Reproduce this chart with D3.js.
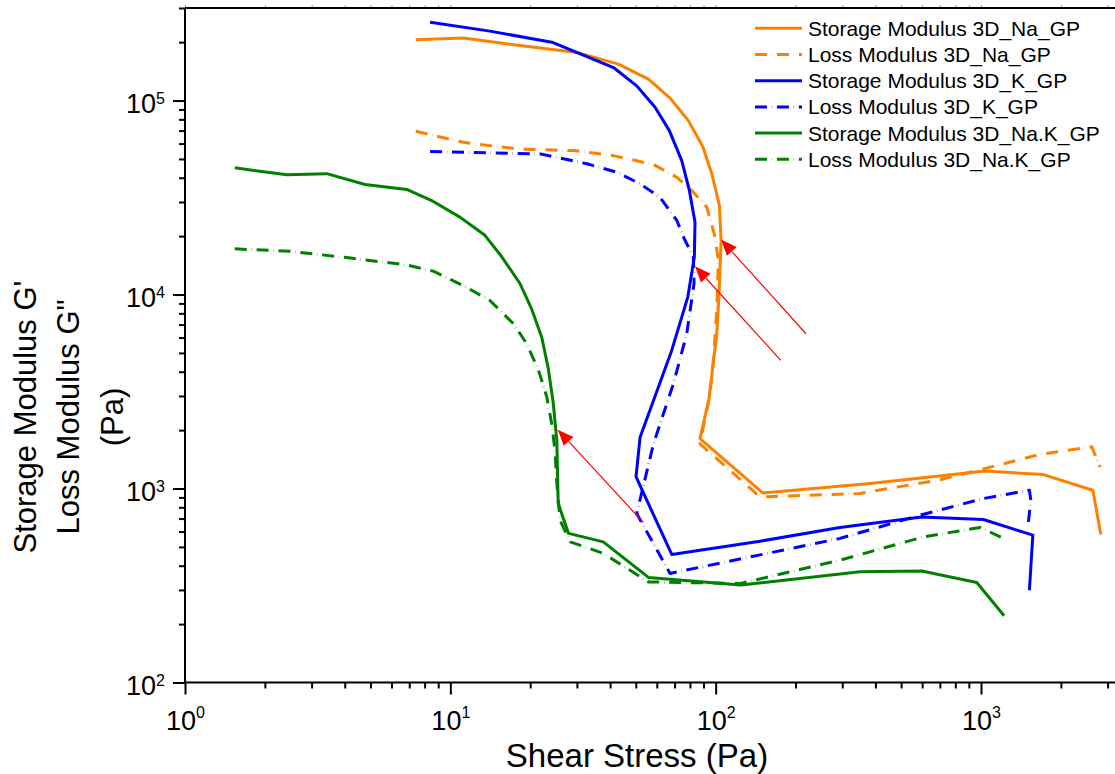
<!DOCTYPE html>
<html>
<head>
<meta charset="utf-8">
<script src="https://cdn.jsdelivr.net/npm/d3@7"></script>
<style>
  html, body { margin: 0; padding: 0; background: #fff; }
  svg { display: block; font-family: "Liberation Sans", Arial, sans-serif; }
</style>
</head>
<body>
<svg id="chart" width="1115" height="774"></svg>
<script>
// ---- Amplitude sweep data: shear stress (Pa) vs. moduli (Pa) ----
// 3D_Na_GP
const naStorageStress = [7.41, 11.2, 18.3, 30.0, 43.0, 55.8, 67.3, 78.9, 89.4, 96.7, 103.3, 104.8, 103.3, 101.0, 94.4, 87.3, 150.5, 382, 1036, 1719, 2639, 2829];
const naStorageG      = [2.06e5, 2.10e5, 1.92e5, 1.77e5, 1.54e5, 1.29e5, 1.03e5, 7.88e4, 5.79e4, 4.19e4, 2.88e4, 1.90e4, 1.09e4, 6280, 2910, 1810, 949, 1060, 1230, 1180, 980, 580];
const naLossStress    = [7.41, 11.2, 17.8, 29.1, 41.2, 58.3, 71.4, 82.4, 92.6, 99.5, 102.4, 101.0, 98.0, 95.3, 87.3, 147, 350, 701, 992, 1670, 2617, 2811];
const naLossG         = [6.94e4, 6.09e4, 5.63e4, 5.52e4, 5.20e4, 4.68e4, 4.02e4, 3.37e4, 2.82e4, 1.98e4, 1.50e4, 8280, 4580, 3080, 1700, 905, 943, 1110, 1250, 1500, 1640, 1290];
// 3D_K_GP
const kStorageStress  = [8.39, 14.1, 24.4, 41.2, 50.4, 59.1, 66.9, 74.5, 79.6, 83.6, 83.1, 78.5, 68.3, 51.9, 50.1, 68.3, 147, 294, 598, 1021, 1568, 1522];
const kStorageG       = [2.53e5, 2.28e5, 1.99e5, 1.48e5, 1.19e5, 9.23e4, 7.00e4, 4.90e4, 3.44e4, 2.36e4, 1.56e4, 9700, 5150, 1840, 1150, 457, 535, 630, 714, 692, 575, 299];
const kLossStress     = [8.39, 21.8, 32.7, 42.4, 51.9, 61.7, 71.4, 75.6, 82.4, 82.9, 77.8, 69.3, 58.3, 50.4, 67.3, 147, 294, 590, 1021, 1522, 1541, 1509];
const kLossG          = [5.46e4, 5.31e4, 4.72e4, 4.27e4, 3.72e4, 3.17e4, 2.41e4, 1.98e4, 1.56e4, 1.14e4, 6280, 3470, 1700, 743, 365, 455, 553, 729, 888, 980, 871, 673];
// 3D_Na.K_GP
const naKStorageStress = [1.54, 2.42, 3.42, 4.77, 6.85, 8.63, 10.9, 13.5, 15.6, 18.3, 20.3, 22.1, 23.4, 24.4, 25.2, 25.5, 27.9, 37.7, 55.8, 124, 350, 598, 964, 1222];
const naKStorageG      = [4.50e4, 4.14e4, 4.20e4, 3.69e4, 3.48e4, 3.02e4, 2.50e4, 2.02e4, 1.57e4, 1.14e4, 8350, 6030, 4150, 2790, 1770, 837, 587, 531, 348, 318, 372, 376, 328, 221];
const naKLossStress    = [1.54, 2.49, 4.07, 6.85, 8.63, 11.5, 14.1, 17.3, 19.4, 21.5, 23.1, 24.1, 24.8, 25.2, 25.9, 28.3, 37.7, 55.8, 124, 294, 607, 992, 1198];
const naKLossG         = [1.72e4, 1.67e4, 1.55e4, 1.42e4, 1.32e4, 1.09e4, 9320, 7070, 5580, 4070, 2960, 2160, 1570, 1060, 687, 531, 463, 330, 324, 427, 563, 630, 559];

// Crossover arrows (tail -> head), in data units
const arrowTailStress = [219, 176, 53.4];
const arrowTailG      = [6280, 4580, 668];
const arrowHeadStress = [104.8, 83.6, 25.4];
const arrowHeadG      = [1.92e4, 1.40e4, 2010];

// Axis ticks
const xMajorTicks = [1, 10, 100, 1000];
const xMinorTicks = [2,3,4,5,6,7,8,9, 20,30,40,50,60,70,80,90, 200,300,400,500,600,700,800,900, 2000,3000];
const yMajorTicks = [100, 1000, 10000, 100000];
const yMinorTicks = [200,300,400,500,600,700,800,900, 2000,3000,4000,5000,6000,7000,8000,9000,
                     2e4,3e4,4e4,5e4,6e4,7e4,8e4,9e4, 2e5,3e5];

const legendLabels = [
  "Storage Modulus 3D_Na_GP", "Loss Modulus 3D_Na_GP",
  "Storage Modulus 3D_K_GP",  "Loss Modulus 3D_K_GP",
  "Storage Modulus 3D_Na.K_GP", "Loss Modulus 3D_Na.K_GP"
];

// ---- styles ----
const ORANGE = "#ff8000", BLUE = "#0000ff", GREEN = "#008000";
const DASH = "12,4.8,0.3,4.8";

const series = [
  { xs: naStorageStress,  ys: naStorageG,  color: ORANGE, dash: null },
  { xs: naLossStress,     ys: naLossG,     color: ORANGE, dash: DASH },
  { xs: kStorageStress,   ys: kStorageG,   color: BLUE,   dash: null },
  { xs: kLossStress,      ys: kLossG,      color: BLUE,   dash: DASH },
  { xs: naKStorageStress, ys: naKStorageG, color: GREEN,  dash: null },
  { xs: naKLossStress,    ys: naKLossG,    color: GREEN,  dash: DASH }
].map((s, i) => Object.assign(s, { label: legendLabels[i] }));

const W = 1115;
const svg = d3.select("#chart");

const x = d3.scaleLog().domain([1, 1000]).range([185, 981]);
const y = d3.scaleLog().domain([100, 3e5]).range([682.5, 8]);
const x0 = x(1), yBottom = y(100), yTop = y(3e5);

// ---- axes ----
function styleAxis(g) {
  g.attr("font-size", null).attr("font-family", null);
  g.select(".domain").remove();
  g.selectAll(".tick line").attr("stroke", "#000").attr("stroke-width", 2);
}

function powerLabel(textSel, baseSize, supSize, supDy) {
  textSel.each(function (d) {
    const t = d3.select(this);
    t.text(null);
    t.append("tspan").attr("font-size", baseSize).text("10");
    t.append("tspan").attr("font-size", supSize).attr("dy", supDy).text(Math.round(Math.log10(d)));
  });
}

// bottom
svg.append("g").attr("transform", `translate(0,${yBottom})`)
  .call(d3.axisBottom(x).tickValues(xMinorTicks).tickSize(6).tickFormat(() => ""))
  .call(styleAxis).call(g => g.selectAll("text").remove());
const xMaj = svg.append("g").attr("transform", `translate(0,${yBottom})`)
  .call(d3.axisBottom(x).tickValues(xMajorTicks).tickSize(12).tickFormat(() => ""))
  .call(styleAxis);
xMaj.selectAll(".tick text")
  .attr("y", 47.5).attr("dy", null).attr("fill", "#000").attr("text-anchor", "middle")
  .call(powerLabel, 27, 16, -12.3);

// left
svg.append("g").attr("transform", `translate(${x0},0)`)
  .call(d3.axisLeft(y).tickValues(yMinorTicks).tickSize(6).tickFormat(() => ""))
  .call(styleAxis).call(g => g.selectAll("text").remove());
const yMaj = svg.append("g").attr("transform", `translate(${x0},0)`)
  .call(d3.axisLeft(y).tickValues(yMajorTicks).tickSize(12).tickFormat(() => ""))
  .call(styleAxis);
yMaj.selectAll(".tick text")
  .attr("x", -20).attr("dy", null).attr("y", 11.5).attr("fill", "#000").attr("text-anchor", "end")
  .call(powerLabel, 27, 16, -9);

// top (ticks point outward, mostly outside the view)
svg.append("g").attr("transform", `translate(0,${yTop})`)
  .call(d3.axisTop(x).tickValues(xMajorTicks.concat(xMinorTicks)).tickSize(3).tickFormat(() => ""))
  .call(g => { g.select(".domain").remove(); g.selectAll("text").remove();
               g.selectAll(".tick line").attr("stroke", "#999").attr("stroke-width", 1); });

// frame lines
const frame = svg.append("g").attr("stroke", "#000").attr("stroke-width", 2).attr("fill", "none");
frame.append("line").attr("x1", x0).attr("x2", W).attr("y1", yBottom).attr("y2", yBottom);
frame.append("line").attr("x1", x0).attr("x2", W).attr("y1", yTop).attr("y2", yTop);
frame.append("line").attr("x1", x0).attr("x2", x0).attr("y1", yTop).attr("y2", yBottom);

// ---- data lines ----
const line = d3.line().x(d => x(d[0])).y(d => y(d[1]));
svg.append("g").selectAll("path").data(series).join("path")
  .attr("d", s => line(s.xs.map((v, i) => [v, s.ys[i]])))
  .attr("fill", "none")
  .attr("stroke", s => s.color)
  .attr("stroke-width", 3)
  .attr("stroke-linejoin", "round")
  .attr("stroke-dasharray", s => s.dash);

// ---- arrows ----
const arrows = svg.append("g");
arrowHeadStress.forEach((hs, i) => {
  const tx = x(arrowTailStress[i]), ty = y(arrowTailG[i]);
  const hx = x(hs), hy = y(arrowHeadG[i]);
  const len = Math.hypot(hx - tx, hy - ty);
  const ux = (hx - tx) / len, uy = (hy - ty) / len;
  const headLen = 16, headHalf = 6.5;
  const bx = hx - ux * headLen, by = hy - uy * headLen;
  arrows.append("line").attr("x1", tx).attr("y1", ty).attr("x2", bx).attr("y2", by)
    .attr("stroke", "#ff0000").attr("stroke-width", 1.2);
  arrows.append("polygon")
    .attr("points", [[hx, hy], [bx - uy * headHalf, by + ux * headHalf], [bx + uy * headHalf, by - ux * headHalf]]
      .map(p => p.join(",")).join(" "))
    .attr("fill", "#ff0000");
});

// ---- legend ----
const legend = svg.append("g").attr("transform", "translate(755,28.3)");
const rows = legend.selectAll("g").data(series).join("g")
  .attr("transform", (d, i) => `translate(0,${i * 26.2})`);
rows.append("line").attr("x1", 0).attr("x2", 47).attr("y1", 0).attr("y2", 0)
  .attr("stroke", d => d.color).attr("stroke-width", 3).attr("stroke-dasharray", d => d.dash);
rows.append("text").attr("x", 53).attr("y", 7.5).attr("font-size", 21).attr("fill", "#000")
  .text(d => d.label);

// ---- axis titles ----
svg.append("text").attr("x", 637).attr("y", 767).attr("text-anchor", "middle")
  .attr("font-size", 33).attr("fill", "#000").text("Shear Stress (Pa)");

const yTitle = ["Storage Modulus G'", "Loss Modulus G\"", "(Pa)"];
const yTitleBase = [35.5, 79, 123];
svg.append("g").selectAll("text").data(yTitle).join("text")
  .attr("transform", (d, i) => `translate(${yTitleBase[i]},417) rotate(-90)`)
  .attr("text-anchor", "middle").attr("font-size", 31).attr("fill", "#000")
  .text(d => d);
</script>
</body>
</html>
